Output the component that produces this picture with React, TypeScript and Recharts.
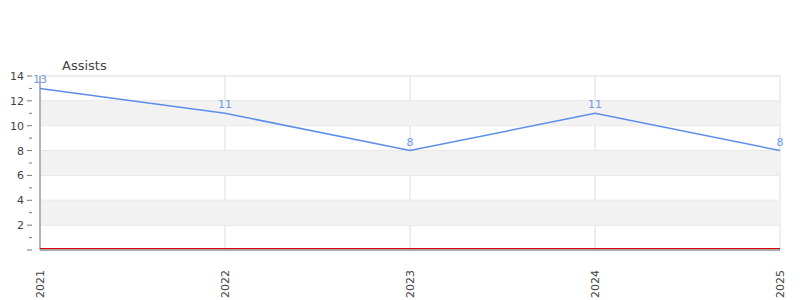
import {
  LineChart,
  Line,
  XAxis,
  YAxis,
  CartesianGrid,
  ReferenceArea,
  ReferenceLine,
  LabelList,
} from "recharts";

const years = ["2021", "2022", "2023", "2024", "2025"];
const assists = [13, 11, 8, 11, 8];
const yTicks = [0, 1, 2, 3, 4, 5, 6, 7, 8, 9, 10, 11, 12, 13, 14];
const gridValues = [2, 4, 6, 8, 10, 12, 14];
const bands = [
  [2, 4],
  [6, 8],
  [10, 12],
];

const data = years.map((year, i) => ({ year, assists: assists[i] }));

const YTick = (props: any) => {
  const { x, y, payload } = props;
  const v = payload.value as number;
  const major = v % 2 === 0;
  return (
    <g>
      <line x1={major ? x - 5 : x - 3} x2={x} y1={y} y2={y} stroke="#777" />
      {major && v !== 0 && (
        <text x={x - 8} y={y} dy={4} textAnchor="end" fill="#444" fontSize={11}>
          {v}
        </text>
      )}
    </g>
  );
};

const XTick = (props: any) => {
  const { x, y, payload } = props;
  return (
    <text
      x={0}
      y={0}
      dy={4}
      textAnchor="end"
      fill="#444"
      fontSize={11}
      transform={`translate(${x},${y + 12}) rotate(-90)`}
    >
      {payload.value}
    </text>
  );
};

export default function App() {
  return (
    <div
      style={{
        position: "absolute",
        left: 0,
        top: 0,
        width: 800,
        height: 300,
        background: "#fff",
        fontFamily: "DejaVu Sans, sans-serif",
      }}
    >
      <div
        style={{
          position: "absolute",
          left: 62,
          top: 58,
          fontSize: 13,
          color: "#444",
        }}
      >
        Assists
      </div>
      <LineChart
        width={800}
        height={300}
        data={data}
        margin={{ top: 76, right: 20, bottom: 0, left: 0 }}
      >
        {bands.map(([a, b]) => (
          <ReferenceArea
            key={a}
            y1={a}
            y2={b}
            fill="#f2f2f2"
            fillOpacity={1}
            stroke="none"
          />
        ))}
        <CartesianGrid stroke="#dddddd" horizontalValues={gridValues} />
        <XAxis
          dataKey="year"
          height={50}
          tick={<XTick />}
          tickLine={false}
          axisLine={{ stroke: "#555" }}
          interval={0}
        />
        <YAxis
          domain={[0, 14]}
          ticks={yTicks}
          interval={0}
          width={40}
          tick={<YTick />}
          tickLine={false}
          axisLine={{ stroke: "#777" }}
        />
        <ReferenceLine
          y={0}
          stroke="#d00"
          shape={(p: any) => (
            <line
              x1={p.x1}
              x2={p.x2}
              y1={p.y1 - 1.5}
              y2={p.y2 - 1.5}
              stroke="#d00"
              strokeWidth={1}
            />
          )}
        />
        <Line
          dataKey="assists"
          type="linear"
          stroke="#5b8ee9"
          strokeWidth={1.5}
          dot={false}
          isAnimationActive={false}
        >
          <LabelList dataKey="assists" position="top" offset={5} fill="#6f9ae8" fontSize={11} />
        </Line>
      </LineChart>
    </div>
  );
}
